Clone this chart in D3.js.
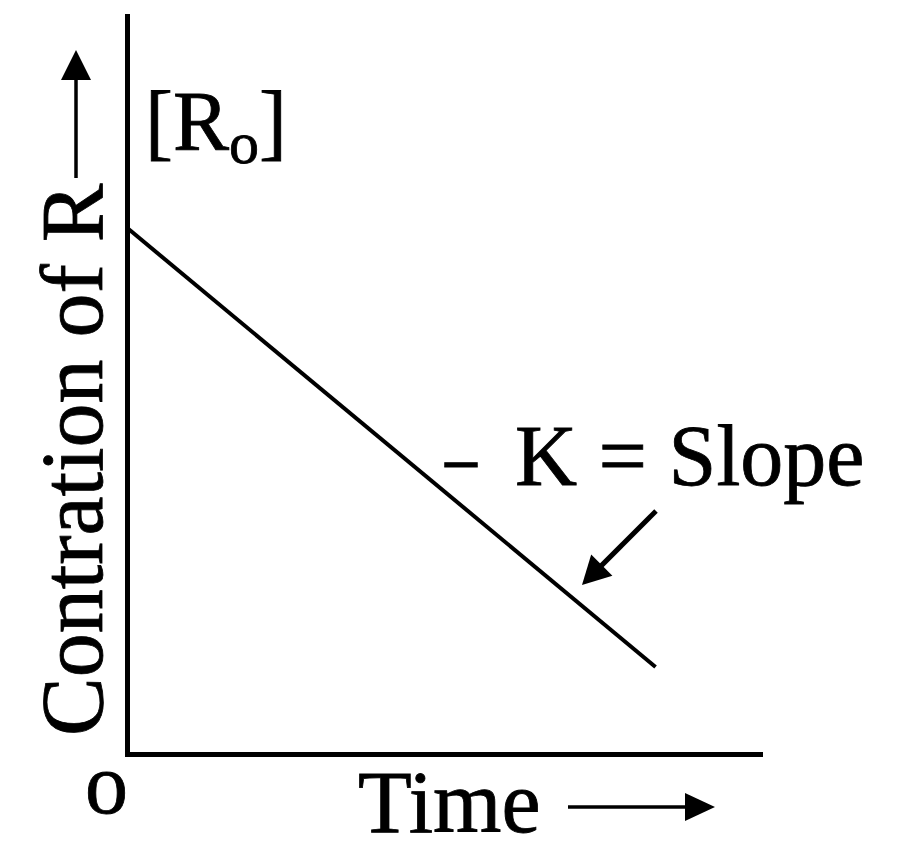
<!DOCTYPE html>
<html>
<meta charset="utf-8">
<title>Zero order reaction</title>
<script src="https://d3js.org/d3.v7.min.js"></script>
<style>
body { margin: 0; background: #fff; }
text { font-family: "Liberation Serif", "Times New Roman", serif; fill: #000; stroke: #000; stroke-width: 0.8; }
.axis path { stroke: #000; stroke-width: 5; stroke-linecap: square; }
</style>
<body>
  <svg width="900" height="856"></svg>
  <script>
  // data
  var times = [0, 8.35],
      conc = [7.13, 1.18];
  var xLabel = "Time",
      yLabel = "Contration of R",
      originLabel = "o",
      slopeLabel = "K = Slope";

  var svg = d3.select("svg");

  var x = d3.scaleLinear().domain([0, 10]).range([127, 760]),
      y = d3.scaleLinear().domain([0, 10]).range([754, 16]);

  // axes, no ticks
  svg.append("g")
    .attr("class", "axis")
    .attr("transform", "translate(0," + y(0) + ")")
    .call(d3.axisBottom(x).tickValues([]).tickSizeOuter(0));

  svg.append("g")
    .attr("class", "axis")
    .attr("transform", "translate(" + x(0) + ",0)")
    .call(d3.axisLeft(y).tickValues([]).tickSizeOuter(0));
  svg.selectAll(".axis path").attr("stroke-width", function(d, i) { return i == 0 ? 5 : 4; });

  // the concentration line
  var pts = times.map(function(t, i) { return [t, conc[i]]; });
  svg.append("path")
    .datum(pts)
    .attr("fill", "none")
    .attr("stroke", "#000")
    .attr("stroke-width", 4)
    .attr("d", d3.line().x(function(d) { return x(d[0]); }).y(function(d) { return y(d[1]); }));

  // arrow helper: line + solid head
  function arrow(x1, y1, x2, y2, w, len, half) {
    var dx = x2 - x1, dy = y2 - y1, l = Math.sqrt(dx * dx + dy * dy);
    var ux = dx / l, uy = dy / l;
    var bx = x2 - ux * len, by = y2 - uy * len;
    svg.append("line")
      .attr("x1", x1).attr("y1", y1).attr("x2", bx + ux * 2).attr("y2", by + uy * 2)
      .attr("stroke", "#000").attr("stroke-width", w);
    svg.append("path")
      .attr("d", "M" + x2 + "," + y2 +
        "L" + (bx - uy * half) + "," + (by + ux * half) +
        "L" + (bx + uy * half) + "," + (by - ux * half) + "Z")
      .attr("fill", "#000");
  }

  // y label
  svg.append("text")
    .attr("transform", "translate(102,736) rotate(-90)")
    .attr("font-size", 88)
    .text(yLabel);
  arrow(76, 178, 76, 50, 3.5, 30, 15);

  // x label
  svg.append("text")
    .attr("x", 358).attr("y", 832)
    .attr("font-size", 88)
    .text(xLabel);
  arrow(568, 807, 715, 807, 3.5, 30, 14);

  // origin
  svg.append("text")
    .attr("x", 85).attr("y", 813)
    .attr("font-size", 86)
    .text(originLabel);

  // [Ro]
  var r0 = svg.append("text").attr("x", 145).attr("y", 150).attr("font-size", 84);
  r0.append("tspan").text("[R");
  r0.append("tspan").attr("font-size", 60).attr("dy", 13).text("o");
  r0.append("tspan").attr("dy", -13).text("]");

  // slope annotation
  var sl = svg.append("text").attr("y", 485).attr("font-size", 86);
  sl.append("tspan").attr("x", 445).attr("textLength", 32).attr("lengthAdjust", "spacingAndGlyphs").text("\u2013");
  sl.append("tspan").attr("x", 515).text(slopeLabel);
  arrow(656, 511, 582, 585, 5, 28, 15);
  </script>
</body>
</html>
